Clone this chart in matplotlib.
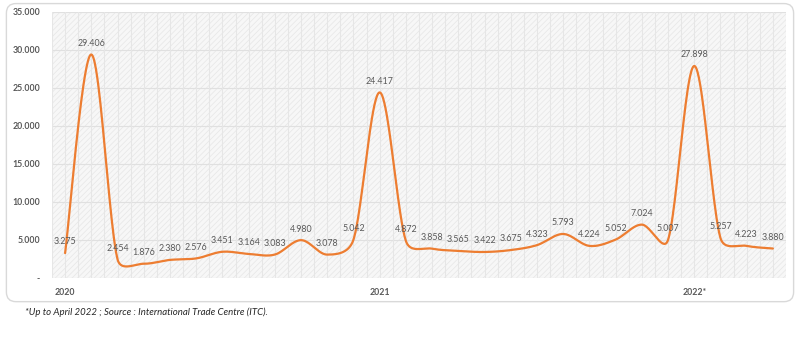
import numpy as np
import matplotlib
matplotlib.use("Agg")
import matplotlib.pyplot as plt
from matplotlib.patches import FancyBboxPatch

# ---- data ----
months = list(range(28))
values = [3275, 29406, 2454, 1876, 2380, 2576, 3451, 3164, 3083, 4980, 3078, 5042,
          24417, 4872, 3858, 3565, 3422, 3675, 4323, 5793, 4224, 5052, 7024, 5007,
          27898, 5257, 4223, 3880]
year_labels = {0: "2020", 12: "2021", 24: "2022*"}
yticks = [0, 5000, 10000, 15000, 20000, 25000, 30000, 35000]
footnote = "*Up to April 2022 ; Source : International Trade Centre (ITC)."

FONT = ["Lato", "DejaVu Sans"]
plt.rcParams['font.family'] = FONT
plt.rcParams['hatch.linewidth'] = 0.5

def fmt(v):
    return "-" if v == 0 else f"{v:,.0f}".replace(",", ".")

def excel_smooth(P, n=40):
    """Excel-like smoothed line: Bezier segments with tension 1/6,
    control arms capped at half the segment length (P in pixel space)."""
    P = np.asarray(P, float)
    N = len(P)
    out = []
    t = np.linspace(0, 1, n, endpoint=False)[:, None]
    for i in range(N - 1):
        p0 = P[max(i - 1, 0)]; p1 = P[i]; p2 = P[i + 1]; p3 = P[min(i + 2, N - 1)]
        d12 = np.linalg.norm(p2 - p1)
        d02 = np.linalg.norm(p2 - p0)
        d13 = np.linalg.norm(p3 - p1)
        f1 = 1 / 6 if d02 / 6 < d12 / 2 or d02 == 0 else d12 / (2 * d02)
        f2 = 1 / 6 if d13 / 6 < d12 / 2 or d13 == 0 else d12 / (2 * d13)
        c1 = p1 + f1 * (p2 - p0)
        c2 = p2 - f2 * (p3 - p1)
        b = (1 - t) ** 3 * p1 + 3 * (1 - t) ** 2 * t * c1 + 3 * (1 - t) * t ** 2 * c2 + t ** 3 * p2
        out.append(b)
    out.append(P[-1][None, :])
    return np.vstack(out)

fig = plt.figure(figsize=(8, 3.57), dpi=100)

# rounded outer frame
frame = FancyBboxPatch((0.008, 0.155), 0.984, 0.835, boxstyle="round,pad=0,rounding_size=0.012",
                       transform=fig.transFigure, facecolor="white", edgecolor="#d9d9d9",
                       linewidth=1.0, zorder=-5, mutation_aspect=800/357)
fig.patches.append(frame)

ax = fig.add_axes([0.065, 0.2213, 0.9175, 0.7451])
ax.set_zorder(5)
ax.set_facecolor("#f7f7f7")
ax.add_patch(plt.Rectangle((0, 0), 1, 1, transform=ax.transAxes, facecolor="none",
                           edgecolor="#e6e6e6", hatch="//////", linewidth=0, zorder=0))

ax.set_xlim(-0.5, 27.5)
ax.set_ylim(0, 35000)

# grid
for v in yticks:
    ax.axhline(v, color="#e0e0e0", linewidth=0.8, zorder=1)
for xv in np.arange(-0.5, 27.6, 0.5):
    ax.axvline(xv, color="#e6e6e6", linewidth=0.8, zorder=1)

# smooth the line in display space, then map back to data
fig.canvas.draw()
pix = ax.transData.transform(np.column_stack([months, values]))
sm = ax.transData.inverted().transform(excel_smooth(pix))
ax.plot(sm[:, 0], sm[:, 1], color="#ED7D31", linewidth=1.6, zorder=3, solid_capstyle="round")

for m, v in zip(months, values):
    ax.annotate(fmt(v), (m, v), xytext=(0, 8), textcoords="offset points",
                ha="center", va="center", fontsize=6.4, color="#595959", zorder=4)

ax.set_yticks(yticks)
ax.set_yticklabels([fmt(v) for v in yticks], fontsize=6.3, fontweight="bold", color="#595959")
ax.set_xticks(list(year_labels.keys()))
ax.set_xticklabels(list(year_labels.values()), fontsize=6.3, fontweight="bold", color="#595959")
ax.tick_params(axis="both", length=0)
ax.tick_params(axis="y", pad=8.5)
ax.tick_params(axis="x", pad=7.5)
for s in ax.spines.values():
    s.set_visible(False)

fig.text(0.031, 0.125, footnote, fontsize=6.9, style="italic", color="#262626",
         ha="left", va="center")

fig.savefig("out.png", dpi=100)
